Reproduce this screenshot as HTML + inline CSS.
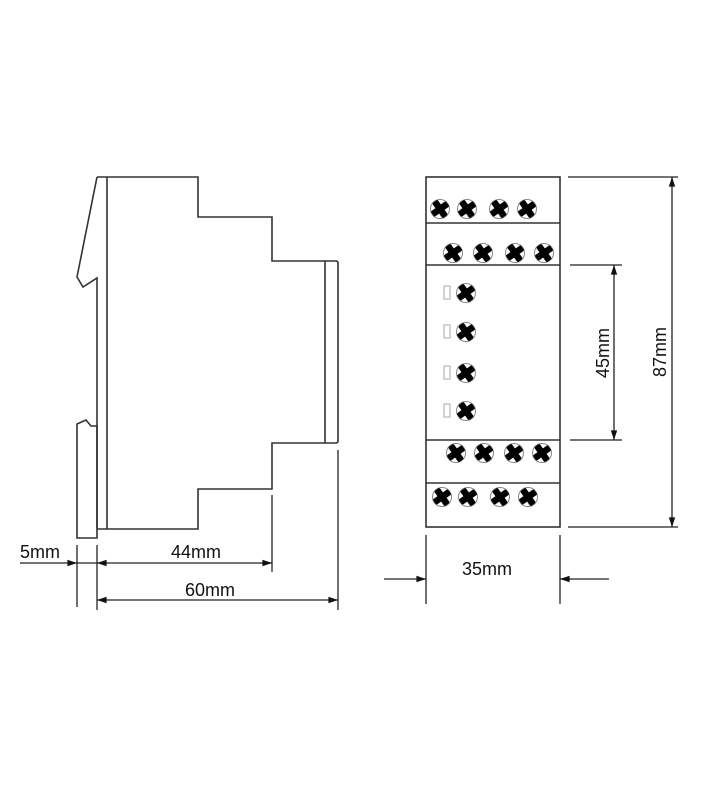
<!DOCTYPE html>
<html><head><meta charset="utf-8"><style>
html,body{margin:0;padding:0;background:#fff;}
svg{display:block;}
text{font-family:"Liberation Sans",sans-serif;font-size:18px;fill:#111;}
</style></head><body>
<svg width="710" height="800" viewBox="0 0 710 800" xmlns="http://www.w3.org/2000/svg">
<defs>
<marker id="ar" viewBox="0 0 12 10" refX="12" refY="5" markerWidth="12" markerHeight="8" markerUnits="userSpaceOnUse" orient="auto-start-reverse">
<path d="M0,1 L12,5 L0,9 z" fill="#111"/></marker>
<g id="sc">
<circle r="9.5" fill="#fff" stroke="#888" stroke-width="1"/>
<g transform="rotate(-35)" fill="#000">
<rect x="-9.2" y="-3.3" width="18.4" height="6.6" rx="1.5"/>
<rect x="-3.3" y="-9.2" width="6.6" height="18.4" rx="1.5"/>
</g>
</g>
</defs>
<g fill="none" stroke="#333" stroke-width="1.6">
<path d="M97,177 H198 V217 H272 V261 H336 Q338,261 338,263 V441 Q338,443 336,443 H272 V489 H198 V529 H97"/>
<line x1="107" y1="177" x2="107" y2="529"/>
<line x1="325" y1="261" x2="325" y2="443"/>
<path d="M97,177 L77,277 L83,287 L97,278 V529"/>
<path d="M77,538 V424 L86,420 L91,426 H97 V538 Z"/>
</g>
<g stroke="#222" stroke-width="1.3" fill="none">
<line x1="77" y1="545" x2="77" y2="607"/>
<line x1="97" y1="545" x2="97" y2="610"/>
<line x1="272" y1="495" x2="272" y2="572"/>
<line x1="338" y1="450" x2="338" y2="610"/>
<line x1="20" y1="563" x2="77" y2="563" marker-end="url(#ar)"/>
<line x1="77" y1="563" x2="97" y2="563"/>
<line x1="97" y1="563" x2="272" y2="563" marker-start="url(#ar)" marker-end="url(#ar)"/>
<line x1="97" y1="600" x2="338" y2="600" marker-start="url(#ar)" marker-end="url(#ar)"/>
</g>
<text x="20" y="558">5mm</text>
<text x="196" y="558" text-anchor="middle">44mm</text>
<text x="210" y="596" text-anchor="middle">60mm</text>

<g fill="none" stroke="#333" stroke-width="1.6">
<rect x="426" y="177" width="134" height="350"/>
<line x1="426" y1="223" x2="560" y2="223"/>
<line x1="426" y1="265" x2="560" y2="265"/>
<line x1="426" y1="440" x2="560" y2="440"/>
<line x1="426" y1="483" x2="560" y2="483"/>
</g>
<g>
<use href="#sc" x="440" y="209"/><use href="#sc" x="467" y="209"/><use href="#sc" x="499" y="209"/><use href="#sc" x="527" y="209"/>
<use href="#sc" x="453" y="253"/><use href="#sc" x="483" y="253"/><use href="#sc" x="515" y="253"/><use href="#sc" x="544" y="253"/>
<use href="#sc" x="466" y="293"/><use href="#sc" x="466" y="332"/><use href="#sc" x="466" y="373"/><use href="#sc" x="466" y="411"/>
<use href="#sc" x="456" y="453"/><use href="#sc" x="484" y="453"/><use href="#sc" x="514" y="453"/><use href="#sc" x="542" y="453"/>
<use href="#sc" x="442" y="497"/><use href="#sc" x="468" y="497"/><use href="#sc" x="500" y="497"/><use href="#sc" x="528" y="497"/>
</g>
<g fill="none" stroke="#aaa" stroke-width="1">
<rect x="444" y="286" width="6" height="13"/>
<rect x="444" y="325" width="6" height="13"/>
<rect x="444" y="366" width="6" height="13"/>
<rect x="444" y="404" width="6" height="13"/>
</g>
<g stroke="#222" stroke-width="1.3" fill="none">
<line x1="568" y1="177" x2="678" y2="177"/>
<line x1="568" y1="527" x2="678" y2="527"/>
<line x1="570" y1="265" x2="622" y2="265"/>
<line x1="570" y1="440" x2="622" y2="440"/>
<line x1="672" y1="177" x2="672" y2="527" marker-start="url(#ar)" marker-end="url(#ar)"/>
<line x1="614" y1="265" x2="614" y2="440" marker-start="url(#ar)" marker-end="url(#ar)"/>
<line x1="426" y1="535" x2="426" y2="604"/>
<line x1="560" y1="535" x2="560" y2="604"/>
<line x1="384" y1="579" x2="426" y2="579" marker-end="url(#ar)"/>
<line x1="609" y1="579" x2="560" y2="579" marker-end="url(#ar)"/>
</g>
<text x="487" y="575" text-anchor="middle">35mm</text>
<text transform="translate(609,353) rotate(-90)" text-anchor="middle">45mm</text>
<text transform="translate(666,352) rotate(-90)" text-anchor="middle">87mm</text>
</svg>
</body></html>
